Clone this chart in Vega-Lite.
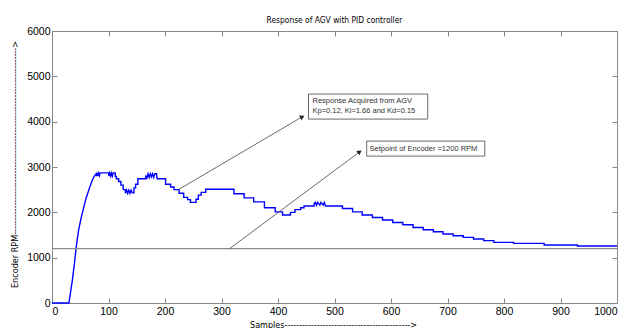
{
  "$schema": "https://vega.github.io/schema/vega-lite/v6.json",
  "width": 565,
  "height": 272,
  "autosize": "none",
  "padding": {"left": 52, "top": 31, "right": 11, "bottom": 25},
  "background": "white",
  "title": {
    "text": "Response of AGV with PID controller",
    "font": "Liberation Sans Narrow, DejaVu Sans Condensed, sans-serif",
    "fontSize": 8.4,
    "fontWeight": "normal",
    "color": "black",
    "anchor": "middle",
    "offset": 2
  },
  "config": {
    "view": {"stroke": "#888", "strokeWidth": 1},
    "axis": {
      "domainColor": "#888",
      "tickColor": "#888",
      "tickSize": -5,
      "grid": false,
      "labelFont": "Liberation Sans, Arial, sans-serif",
      "labelFontSize": 10.5,
      "labelColor": "black",
      "format": "d",
      "titleFont": "Liberation Sans Narrow, DejaVu Sans Condensed, sans-serif",
      "titleFontSize": 9,
      "titleFontWeight": "normal",
      "titleColor": "black"
    }
  },
  "datasets": {
    "response": [
      {"x": 0, "y": 0}, {"x": 30, "y": 0}, {"x": 33, "y": 250}, {"x": 36, "y": 500}, {"x": 40, "y": 900},
      {"x": 43, "y": 1250}, {"x": 47, "y": 1600}, {"x": 52, "y": 1900}, {"x": 56, "y": 2100}, {"x": 60, "y": 2300},
      {"x": 64, "y": 2450}, {"x": 68, "y": 2600}, {"x": 72, "y": 2730}, {"x": 75, "y": 2800}, {"x": 78, "y": 2850},
      {"x": 79, "y": 2800}, {"x": 80, "y": 2870}, {"x": 81, "y": 2800}, {"x": 82, "y": 2870}, {"x": 84, "y": 2810},
      {"x": 85, "y": 2870}, {"x": 100, "y": 2870}, {"x": 101, "y": 2800}, {"x": 102, "y": 2870}, {"x": 104, "y": 2800},
      {"x": 105, "y": 2870}, {"x": 107, "y": 2800}, {"x": 108, "y": 2870}, {"x": 112, "y": 2870}, {"x": 112, "y": 2790},
      {"x": 114, "y": 2790}, {"x": 114, "y": 2740}, {"x": 118, "y": 2740}, {"x": 118, "y": 2680}, {"x": 122, "y": 2680},
      {"x": 122, "y": 2600}, {"x": 126, "y": 2600}, {"x": 126, "y": 2500}, {"x": 130, "y": 2500}, {"x": 130, "y": 2420},
      {"x": 132, "y": 2490}, {"x": 134, "y": 2420}, {"x": 136, "y": 2490}, {"x": 138, "y": 2420}, {"x": 140, "y": 2490},
      {"x": 142, "y": 2430}, {"x": 145, "y": 2430}, {"x": 145, "y": 2540}, {"x": 148, "y": 2540}, {"x": 148, "y": 2620},
      {"x": 152, "y": 2620}, {"x": 152, "y": 2740}, {"x": 166, "y": 2740}, {"x": 166, "y": 2810}, {"x": 168, "y": 2760},
      {"x": 170, "y": 2850}, {"x": 172, "y": 2770}, {"x": 174, "y": 2850}, {"x": 176, "y": 2780}, {"x": 178, "y": 2850},
      {"x": 180, "y": 2770}, {"x": 182, "y": 2850}, {"x": 185, "y": 2850}, {"x": 186, "y": 2740}, {"x": 201, "y": 2740},
      {"x": 201, "y": 2620}, {"x": 210, "y": 2620}, {"x": 210, "y": 2560}, {"x": 216, "y": 2560}, {"x": 216, "y": 2500},
      {"x": 225, "y": 2500}, {"x": 225, "y": 2420}, {"x": 233, "y": 2420}, {"x": 233, "y": 2330}, {"x": 240, "y": 2330},
      {"x": 240, "y": 2280}, {"x": 245, "y": 2280}, {"x": 245, "y": 2220}, {"x": 255, "y": 2220}, {"x": 255, "y": 2290},
      {"x": 259, "y": 2290}, {"x": 259, "y": 2380}, {"x": 264, "y": 2380}, {"x": 264, "y": 2440}, {"x": 272, "y": 2440},
      {"x": 272, "y": 2510}, {"x": 322, "y": 2510}, {"x": 322, "y": 2410}, {"x": 340, "y": 2410}, {"x": 340, "y": 2320},
      {"x": 357, "y": 2320}, {"x": 357, "y": 2230}, {"x": 376, "y": 2230}, {"x": 376, "y": 2100}, {"x": 395, "y": 2100},
      {"x": 395, "y": 2010}, {"x": 408, "y": 2010}, {"x": 408, "y": 1940}, {"x": 422, "y": 1940}, {"x": 422, "y": 2000},
      {"x": 430, "y": 2000}, {"x": 430, "y": 2060}, {"x": 440, "y": 2060}, {"x": 440, "y": 2100}, {"x": 446, "y": 2100},
      {"x": 446, "y": 2140}, {"x": 464, "y": 2140}, {"x": 464, "y": 2200}, {"x": 466, "y": 2220}, {"x": 468, "y": 2160},
      {"x": 470, "y": 2220}, {"x": 474, "y": 2160}, {"x": 476, "y": 2220}, {"x": 480, "y": 2160}, {"x": 482, "y": 2220},
      {"x": 484, "y": 2150}, {"x": 484, "y": 2140}, {"x": 514, "y": 2140}, {"x": 514, "y": 2085}, {"x": 532, "y": 2085},
      {"x": 532, "y": 2010}, {"x": 549, "y": 2010}, {"x": 549, "y": 1940}, {"x": 567, "y": 1940}, {"x": 567, "y": 1886},
      {"x": 585, "y": 1886}, {"x": 585, "y": 1830}, {"x": 603, "y": 1830}, {"x": 603, "y": 1776}, {"x": 621, "y": 1776},
      {"x": 621, "y": 1726}, {"x": 639, "y": 1726}, {"x": 639, "y": 1667}, {"x": 657, "y": 1667}, {"x": 657, "y": 1616},
      {"x": 675, "y": 1616}, {"x": 675, "y": 1572}, {"x": 692, "y": 1572}, {"x": 692, "y": 1522}, {"x": 710, "y": 1522},
      {"x": 710, "y": 1485}, {"x": 728, "y": 1485}, {"x": 728, "y": 1448}, {"x": 746, "y": 1448}, {"x": 746, "y": 1412},
      {"x": 764, "y": 1412}, {"x": 764, "y": 1375}, {"x": 782, "y": 1375}, {"x": 782, "y": 1338}, {"x": 817, "y": 1338},
      {"x": 817, "y": 1316}, {"x": 871, "y": 1316}, {"x": 871, "y": 1280}, {"x": 930, "y": 1280}, {"x": 930, "y": 1258},
      {"x": 1000, "y": 1258}
    ],
    "arrows": [
      {"x1": 225, "y1": 2510, "x2": 443, "y2": 4108, "angle": 60},
      {"x1": 314.5, "y1": 1200, "x2": 544.6, "y2": 3335, "angle": 53}
    ],
    "boxes": [
      {"x1": 454, "x2": 665, "y1": 4057, "y2": 4609},
      {"x1": 557, "x2": 766, "y1": 3240, "y2": 3571}
    ],
    "labels": [
      {"x": 461, "y": 4455, "text": "Response Acquired from AGV"},
      {"x": 461, "y": 4234, "text": "Kp=0.12, Ki=1.66 and Kd=0.15"},
      {"x": 562, "y": 3405, "text": "Setpoint of Encoder =1200 RPM"}
    ]
  },
  "layer": [
    {
      "data": {"name": "response"},
      "mark": {"type": "line", "color": "#0000ff", "strokeWidth": 1.4, "interpolate": "linear"},
      "encoding": {
        "x": {
          "field": "x", "type": "quantitative",
          "scale": {"domain": [0, 1000], "nice": false},
          "axis": {
            "orient": "bottom",
            "values": [0, 100, 200, 300, 400, 500, 600, 700, 800, 900, 1000],
            "labelPadding": 8,
            "title": "Samples------------------------------------------->",
            "titleX": 281,
            "titleY": 21,
            "titleBaseline": "middle",
            "titleAlign": "center",
            "titleAnchor": null
          }
        },
        "y": {
          "field": "y", "type": "quantitative",
          "scale": {"domain": [0, 6000], "nice": false},
          "axis": {
            "orient": "left",
            "values": [0, 1000, 2000, 3000, 4000, 5000, 6000],
            "labelPadding": 7,
            "title": "Encoder RPM---------------------------------------------------------------->",
            "titleX": -38,
            "titleY": 133,
            "titleAngle": -90,
            "titleBaseline": "middle",
            "titleAlign": "center",
            "titleAnchor": null
          }
        },
        "order": {"value": null}
      }
    },
    {
      "data": {"values": [{"sp": 1200}]},
      "mark": {"type": "rule", "color": "#8c8c8c", "strokeWidth": 1.3},
      "encoding": {
        "y": {"field": "sp", "type": "quantitative", "axis": null}
      }
    },
    {
      "data": {"name": "arrows"},
      "mark": {"type": "rule", "color": "#444", "strokeWidth": 0.8},
      "encoding": {
        "x": {"field": "x1", "type": "quantitative", "axis": null},
        "y": {"field": "y1", "type": "quantitative", "axis": null},
        "x2": {"field": "x2"},
        "y2": {"field": "y2"}
      }
    },
    {
      "data": {"name": "arrows"},
      "mark": {"type": "point", "shape": "triangle-up", "filled": true, "color": "#222", "size": 28, "opacity": 1},
      "encoding": {
        "x": {"field": "x2", "type": "quantitative", "axis": null},
        "y": {"field": "y2", "type": "quantitative", "axis": null},
        "angle": {"field": "angle", "type": "quantitative", "scale": null}
      }
    },
    {
      "data": {"name": "boxes"},
      "mark": {"type": "rect", "fill": "white", "stroke": "#444", "strokeWidth": 0.8},
      "encoding": {
        "x": {
          "field": "x1", "type": "quantitative",
          "axis": {"orient": "top", "labels": false, "title": null, "values": [0, 100, 200, 300, 400, 500, 600, 700, 800, 900, 1000]}
        },
        "x2": {"field": "x2"},
        "y": {
          "field": "y1", "type": "quantitative",
          "axis": {"orient": "right", "labels": false, "title": null, "values": [0, 1000, 2000, 3000, 4000, 5000, 6000]}
        },
        "y2": {"field": "y2"}
      }
    },
    {
      "data": {"name": "labels"},
      "mark": {"type": "text", "align": "left", "baseline": "middle", "font": "Liberation Sans, Arial, sans-serif", "fontSize": 7.5, "color": "#333"},
      "encoding": {
        "x": {"field": "x", "type": "quantitative", "axis": null},
        "y": {"field": "y", "type": "quantitative", "axis": null},
        "text": {"field": "text"}
      }
    }
  ],
  "resolve": {"axis": {"x": "independent", "y": "independent"}}
}
